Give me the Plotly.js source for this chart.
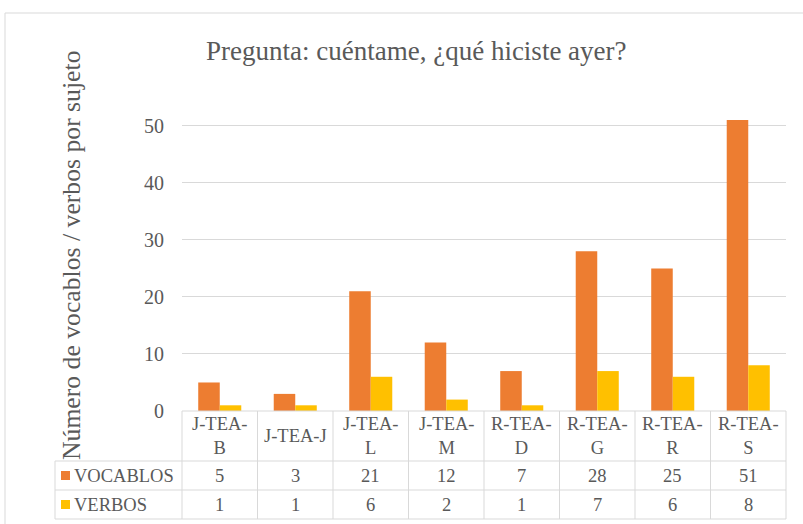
<!DOCTYPE html>
<html><head><meta charset="utf-8">
<script src="https://cdn.plot.ly/plotly-3.0.1.min.js"></script>
<style>html,body{margin:0;padding:0;background:#fff}#chart{width:803px;height:524px}</style>
</head><body><div id="chart"></div>
<script>
const categories = ['J-TEA-B','J-TEA-J','J-TEA-L','J-TEA-M','R-TEA-D','R-TEA-G','R-TEA-R','R-TEA-S'];
const headerLabels = ['J-TEA-<br>B','J-TEA-J','J-TEA-<br>L','J-TEA-<br>M','R-TEA-<br>D','R-TEA-<br>G','R-TEA-<br>R','R-TEA-<br>S'];
const vocablos = [5,3,21,12,7,28,25,51];
const verbos = [1,1,6,2,1,7,6,8];
const seriesNames = ['VOCABLOS','VERBOS'];
const yTicks = [0,10,20,30,40,50];

const W=803,H=524, L=182, R=786, T=103, B=411;
const pw=R-L, ph=B-T;
const px = x => (x-L)/pw;
const py = y => (B-y)/ph;
const grid='#D9D9D9', txt='#595959';
const colors=['#ED7D31','#FFC000'];
const n=categories.length;

const shapes=[];
function line(x0,y0,x1,y1,c){shapes.push({type:'line',xref:'paper',yref:'paper',x0:px(x0),y0:py(y0),x1:px(x1),y1:py(y1),line:{color:c||grid,width:1}});}
shapes.push({type:'rect',xref:'paper',yref:'paper',x0:px(5),y0:py(530),x1:px(810),y1:py(13),line:{color:grid,width:1}});
const rowY=[411,461,490,519];
line(L,rowY[0],R,rowY[0]);
line(55,rowY[1],R,rowY[1]);
line(55,rowY[2],R,rowY[2]);
line(55,rowY[3],R,rowY[3]);
for(let k=0;k<=n;k++){const x=L+k*pw/n; line(x,rowY[0],x,rowY[3]);}
line(55,rowY[1],55,rowY[3]);
[0,1].forEach(i=>{const cy=(rowY[i+1]+rowY[i+2])/2;
  shapes.push({type:'rect',xref:'paper',yref:'paper',x0:px(61),x1:px(70),y0:py(cy+4.5),y1:py(cy-4.5),fillcolor:colors[i],line:{width:0}});});

const ann=[];
const fam='Liberation Serif';
const f={family:fam,color:txt};
const F=s=>({family:fam,color:txt,size:s});
ann.push({text:'Pregunta: cuéntame, ¿qué hiciste ayer?',xref:'paper',yref:'paper',x:px(416),y:py(51),showarrow:false,font:F(27),xanchor:'center',yanchor:'middle'});
ann.push({text:'Número de vocablos / verbos por sujeto',xref:'paper',yref:'paper',x:px(71),y:py(256),textangle:-90,showarrow:false,font:F(25.7),xanchor:'center',yanchor:'middle'});
categories.forEach((c,i)=>{
  ann.push({text:headerLabels[i],xref:'x',yref:'paper',x:i,y:py((rowY[0]+rowY[1])/2),showarrow:false,font:F(18.5),xanchor:'center',yanchor:'middle'});
  [vocablos,verbos].forEach((arr,r)=>{
    ann.push({text:String(arr[i]),xref:'x',yref:'paper',x:i,y:py((rowY[r+1]+rowY[r+2])/2),showarrow:false,font:F(18.5),xanchor:'center',yanchor:'middle'});
  });
});
seriesNames.forEach((s,r)=>{
  ann.push({text:s,xref:'paper',yref:'paper',x:px(72),y:py((rowY[r+1]+rowY[r+2])/2),showarrow:false,font:F(18.5),xanchor:'left',yanchor:'middle'});
});

const data=[vocablos,verbos].map((v,i)=>({type:'bar',x:categories,y:v,name:seriesNames[i],marker:{color:colors[i],line:{width:0}},hoverinfo:'skip'}));

const layout={width:W,height:H,margin:{l:L,r:W-R,t:T,b:H-B,pad:0},
  paper_bgcolor:'#fff',plot_bgcolor:'#fff',showlegend:false,
  barmode:'group',bargap:0.43,bargroupgap:0,
  font:f,
  xaxis:{type:'category',range:[-0.5,n-0.5],showticklabels:false,showgrid:false,zeroline:false,showline:false,ticks:''},
  yaxis:{range:[0,54],tickvals:yTicks,showgrid:true,gridcolor:grid,gridwidth:1,zeroline:false,showline:false,ticks:'',
    tickfont:F(20),ticklabelstandoff:17},
  shapes:shapes,annotations:ann};
Plotly.newPlot('chart',data,layout,{staticPlot:true});
</script></body></html>
